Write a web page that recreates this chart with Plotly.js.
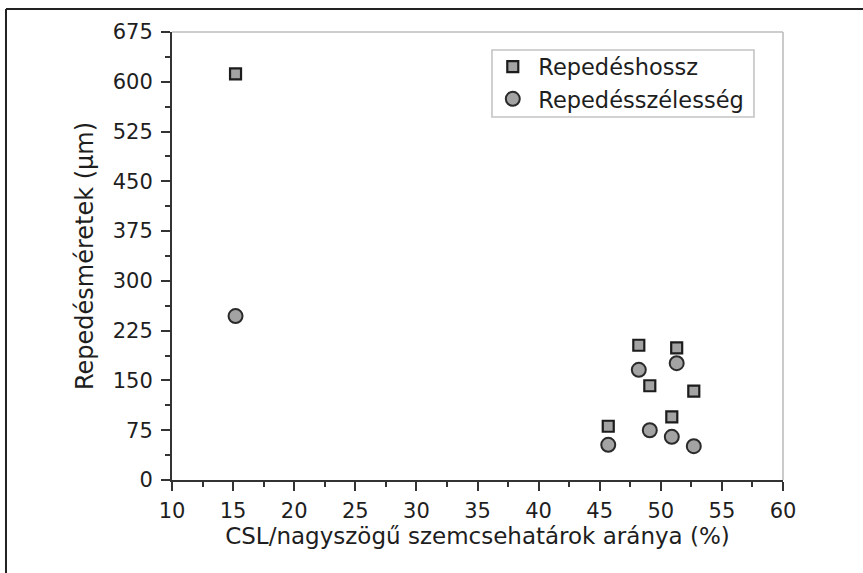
<!DOCTYPE html>
<html>
<head>
<meta charset="utf-8">
<script src="https://cdn.plot.ly/plotly-3.0.1.min.js"></script>
<style>
html,body{margin:0;padding:0;background:#fff;}
#chart{width:863px;height:573px;}
</style>
</head>
<body>
<div id="chart"></div>
<script>
// Data
var seriesNames = ["Repedéshossz", "Repedésszélesség"];
var xValues = [15.2, 45.7, 48.2, 49.1, 50.9, 51.3, 52.7];
var crackLength = [612, 81, 203, 142, 95, 199, 134];
var crackWidth = [247, 53, 166, 75, 65, 176, 51];
var xTitle = "CSL/nagyszögű szemcsehatárok aránya (%)";
var yTitle = "Repedésméretek (µm)";

var FONT = "DejaVu Sans, Liberation Sans, Arial, sans-serif";
var INK = "#1e1e1e";

var traces = [
  {
    type: "scatter", mode: "markers", name: seriesNames[0],
    x: xValues, y: crackLength,
    marker: {symbol: "square", size: 11, color: "#a3a3a3", line: {color: "#1c1c1c", width: 2.2}}
  },
  {
    type: "scatter", mode: "markers", name: seriesNames[1],
    x: xValues, y: crackWidth,
    marker: {symbol: "circle", size: 14, color: "#a3a3a3", line: {color: "#2a2a2a", width: 2}}
  }
];

var axisCommon = {
  showgrid: false, zeroline: false,
  showline: true, linecolor: "#333333", linewidth: 2,
  ticks: "outside", ticklen: 9, tickwidth: 2, tickcolor: "#333333",
  tickfont: {family: FONT, size: 21, color: INK},
  mirror: false
};

var layout = {
  width: 863, height: 573,
  margin: {l: 172, r: 80, t: 32, b: 93, pad: 0},
  paper_bgcolor: "#ffffff", plot_bgcolor: "#ffffff",
  font: {family: FONT, color: INK},
  showlegend: true,
  legend: {
    x: 0.516, y: 0.97, xanchor: "left", yanchor: "top",
    bgcolor: "rgba(0,0,0,0)", borderwidth: 0, itemwidth: 41,
    font: {family: FONT, size: 22.5, color: INK}
  },
  xaxis: Object.assign({}, axisCommon, {
    range: [10, 60], dtick: 5, tick0: 10,
    minor: {dtick: 2.5, ticks: "outside", ticklen: 5, tickwidth: 2, tickcolor: "#333333", showgrid: false},
    ticklabelstandoff: 2,
    title: {text: xTitle, font: {family: FONT, size: 23, color: INK}, standoff: 5}
  }),
  yaxis: Object.assign({}, axisCommon, {
    range: [0, 675], dtick: 75, tick0: 0,
    minor: {dtick: 37.5, ticks: "outside", ticklen: 5, tickwidth: 2, tickcolor: "#333333", showgrid: false},
    ticklabelstandoff: 4,
    title: {text: yTitle, font: {family: FONT, size: 24, color: INK}, standoff: 12}
  }),
  shapes: [
    // light mirror lines on top and right of the plot frame
    {type: "line", xref: "paper", yref: "paper", x0: 0, x1: 1, y0: 1, y1: 1, line: {color: "#bdbdbd", width: 1.6}},
    {type: "line", xref: "paper", yref: "paper", x0: 1, x1: 1, y0: 0, y1: 1, line: {color: "#bdbdbd", width: 1.6}},
    // legend frame
    {type: "rect", xref: "paper", yref: "paper", x0: 0.5237, x1: 0.9525, y0: 0.8103, y1: 0.9598,
     line: {color: "#c4c4c4", width: 1.6}, fillcolor: "rgba(0,0,0,0)"},
    // outer figure border (left and top)
    {type: "line", xref: "paper", yref: "paper", x0: -0.2717, x1: 1.2, y0: 1.0513, y1: 1.0513, line: {color: "#222222", width: 2}},
    {type: "line", xref: "paper", yref: "paper", x0: -0.2717, x1: -0.2717, y0: 1.0513, y1: -0.3, line: {color: "#222222", width: 2}}
  ]
};

Plotly.newPlot("chart", traces, layout, {displayModeBar: false, staticPlot: true});
</script>
</body>
</html>
